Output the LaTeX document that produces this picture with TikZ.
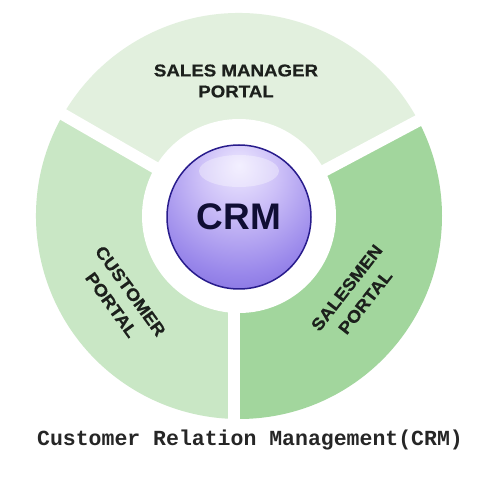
\documentclass[tikz,border=0pt]{standalone}
\usepackage{fontspec}
\usepackage{tikz}
\usetikzlibrary{positioning}
\setmainfont{Liberation Sans}
\newfontfamily\portalfont[FakeStretch=1.1, BoldFeatures={FakeBold=0.6}]{Liberation Sans}
\newfontfamily\captionfont{Liberation Mono}
\definecolor{TopGreen}{RGB}{226,240,222}
\definecolor{LeftGreen}{RGB}{201,231,197}
\definecolor{RightGreen}{RGB}{162,214,157}
\definecolor{LabelInk}{RGB}{28,32,28}
\definecolor{CrmInk}{RGB}{16,14,52}
\definecolor{BallRim}{RGB}{40,28,140}
\pgfdeclareradialshading{CrmBall}{\pgfpoint{0bp}{18bp}}{%
    rgb(0bp)=(0.93,0.91,1);%
    rgb(14bp)=(0.80,0.75,0.97);%
    rgb(32bp)=(0.60,0.53,0.92);%
    rgb(48bp)=(0.44,0.36,0.84);%
    rgb(60bp)=(0.30,0.22,0.72);%
    rgb(68bp)=(0.18,0.12,0.55);%
    rgb(100bp)=(0.15,0.1,0.45)%
}
\tikzset{Sector/.style={%
    draw=none,%
}}
\tikzset{GapLine/.style={%
    draw=white,%
    line width=12pt,%
}}
\tikzset{Ball/.style={%
    shape=circle,%
    shading=CrmBall,%
    draw=BallRim,%
    line width=1.5pt,%
    minimum size=144pt,%
    inner sep=0pt,%
    text=CrmInk,%
    font=\bfseries\fontsize{37}{40}\selectfont,%
}}
\tikzset{PortalLabel/.style={%
    align=center,%
    text=LabelInk,%
    inner sep=0pt,%
    font=\portalfont\bfseries\fontsize{17}{21}\selectfont,%
}}
\tikzset{SidePortalLabel/.style={%
    PortalLabel,%
    font=\portalfont\bfseries\fontsize{17}{23.5}\selectfont,%
}}
\tikzset{CaptionLabel/.style={%
    text=black!85,%
    inner sep=0pt,%
    font=\captionfont\bfseries\fontsize{21.5}{24}\selectfont,%
}}
\NewDocumentCommand{\portalSector}{m m m}{%
    \fill[Sector, #1] (c) -- ++(#2:203) arc[start angle=#2, end angle=#3, radius=203] -- cycle;%
}

\begin{document}
\begin{tikzpicture}[x=1pt, y=1pt]
    \useasboundingbox[fill=white] (0,0) rectangle (478,480);
    \coordinate (c) at (239,264);

    \portalSector{fill=TopGreen}{28}{150}
    \portalSector{fill=LeftGreen}{150}{270}
    \portalSector{fill=RightGreen}{-90}{28}
    \fill[white] (c) circle[radius=97];

    \path (c) ++(28:215) coordinate (gapR);
    \path (c) ++(150:215) coordinate (gapL);
    \path (c) ++(-90:215) coordinate (gapB);
    \draw[GapLine] (c) -- (gapR);
    \draw[GapLine] (c) -- (gapL);
    \draw[GapLine] ([xshift=-5pt]c) -- ([xshift=-5pt]gapB);

    \node[Ball] (crm) at (239,263) {CRM};
    \fill[white, fill opacity=0.35] (239,309) ellipse[x radius=40, y radius=16];

    \node[PortalLabel] (manager) at (236,399) {SALES MANAGER\\PORTAL};
    \node[SidePortalLabel, rotate=-54] (customer) at (121,182) {CUSTOMER\\PORTAL};
    \node[SidePortalLabel, rotate=52] (salesmen) at (356,185) {SALESMEN\\PORTAL};

    \node[CaptionLabel] (caption) at (250,40) {Customer Relation Management(CRM)};
\end{tikzpicture}
\end{document}
